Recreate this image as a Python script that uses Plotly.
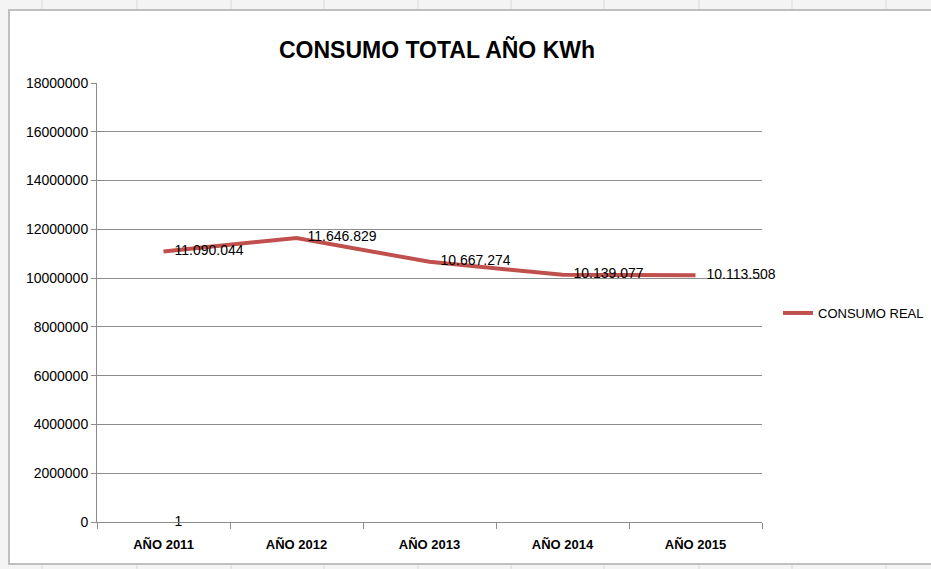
import plotly.graph_objects as go

# data
years = ["AÑO 2011", "AÑO 2012", "AÑO 2013", "AÑO 2014", "AÑO 2015"]
consumo_real = [11090044, 11646829, 10667274, 10139077, 10113508]
serie_extra = [1]

red = "#C0504D"
grid = "#8C8C8C"
font_txt = "Liberation Sans, Arial, sans-serif"

W, H = 931, 569
L, R, T, B = 97, 169, 83, 47


def px(x):
    return (x - L) / (W - L - R)


def py(y):
    return (H - B - y) / (H - T - B)


fig = go.Figure()

fig.add_trace(go.Scatter(
    x=years, y=consumo_real, name="CONSUMO REAL",
    mode="lines+markers+text",
    line=dict(color=red, width=4),
    marker=dict(size=16, color="rgba(0,0,0,0)"),
    text=[f"{v:,}".replace(",", ".") for v in consumo_real],
    textposition="middle right",
    textfont=dict(family=font_txt, size=14, color="#000"),
    cliponaxis=False,
))

fig.add_trace(go.Scatter(
    x=years[:1], y=serie_extra, mode="markers+text", showlegend=False,
    marker=dict(size=16, color="rgba(0,0,0,0)"),
    text=[str(v) for v in serie_extra], textposition="middle right",
    textfont=dict(family=font_txt, size=14, color="#000"),
    hoverinfo="skip", cliponaxis=False,
))

fig.update_layout(
    width=W, height=H,
    margin=dict(l=L, r=R, t=T, b=B, autoexpand=False),
    paper_bgcolor="white", plot_bgcolor="white",
    title=dict(text="<b>CONSUMO TOTAL AÑO KWh</b>", x=437 / W, xanchor="center",
               xref="container", yref="container", y=1 - 50 / H, yanchor="middle",
               font=dict(family=font_txt, size=23, color="#000")),
    legend=dict(x=px(778), y=py(313), xanchor="left", yanchor="middle",
                font=dict(family=font_txt, size=13, color="#000"),
                bgcolor="rgba(0,0,0,0)", itemwidth=30),
    showlegend=True,
)

fig.update_xaxes(
    type="category", range=[-0.5, 4.5],
    showline=True, linecolor=grid, linewidth=1,
    ticks="outside", tickson="boundaries", ticklen=6, tickcolor=grid,
    showgrid=False,
    tickfont=dict(family=font_txt, size=13, color="#000"),
    tickprefix="<b>", ticksuffix="</b>",
    ticklabelstandoff=10,
)
fig.update_yaxes(
    range=[0, 18000000], dtick=2000000, tickformat="d",
    showline=True, linecolor=grid, linewidth=1,
    ticks="outside", ticklen=5, tickcolor=grid,
    showgrid=True, gridcolor=grid, gridwidth=1, zeroline=False,
    tickfont=dict(family=font_txt, size=14, color="#000"),
)

# spreadsheet cells around the chart
fig.add_shape(type="rect", xref="paper", yref="paper",
              x0=px(0), x1=px(W), y0=py(0), y1=py(H),
              fillcolor="#F4F4F4", line=dict(width=0), layer="below")
for cx in [42, 137, 231, 324, 418, 511, 604, 699, 792, 886]:
    for y0, y1 in [(0, 10), (564, H)]:
        fig.add_shape(type="line", xref="paper", yref="paper",
                      x0=px(cx), x1=px(cx), y0=py(y0), y1=py(y1),
                      line=dict(color="#DADADA", width=1), layer="below")

# chart frame
fig.add_shape(type="rect", xref="paper", yref="paper",
              x0=px(9), x1=px(W + 10), y0=py(564), y1=py(10),
              fillcolor="white", line=dict(color="#BFBFBF", width=2),
              layer="below")

fig.write_html("out.html", config={"displayModeBar": False},
               post_script="document.body.style.margin='0';")
